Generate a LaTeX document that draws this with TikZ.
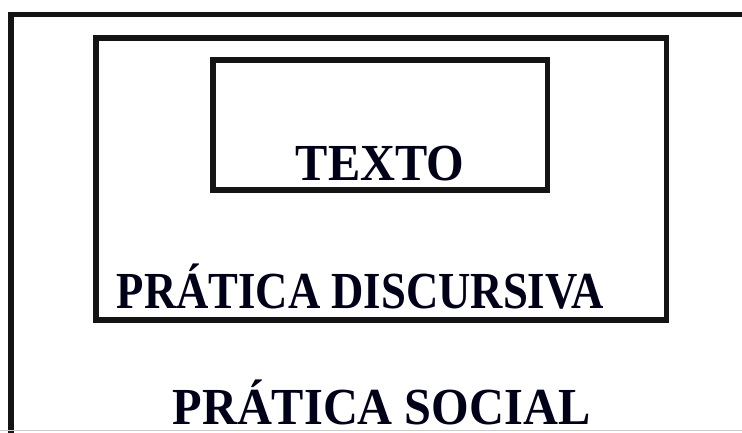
\documentclass[tikz,border=0pt]{standalone}
\usepackage{fontspec}
\setmainfont{Liberation Serif}
\usepackage{graphicx}
\tikzset{
  frame/.style={draw=black!92, line width=5.5pt},
  lbl/.style={anchor=base, inner sep=0pt, text=black!90!blue, font=\fontsize{52}{60}\selectfont\bfseries}
}
\begin{document}
\begin{tikzpicture}[x=1pt,y=-1pt]
\useasboundingbox (0,0) rectangle (742,432);
\begin{scope}
\clip (0,0) rectangle (742,432);
\draw[frame] (11,14.5) rectangle (780,470);
\draw[gray!40, line width=1.2pt] (0,430.5) -- (742,430.5);
\end{scope}
\draw[frame] (96,38) rectangle (666.5,320);
\draw[frame] (213,60) rectangle (547.5,190);
\node[lbl] (texto) at (380,180) {\scalebox{0.93}[1]{TEXTO}};
\node[lbl] (disc) at (360.5,308) {\scalebox{0.86}[1]{PRÁTICA DISCURSIVA}};
\node[lbl] (social) at (381.5,424) {\scalebox{0.93}[1]{PRÁTICA SOCIAL}};
\end{tikzpicture}
\end{document}
